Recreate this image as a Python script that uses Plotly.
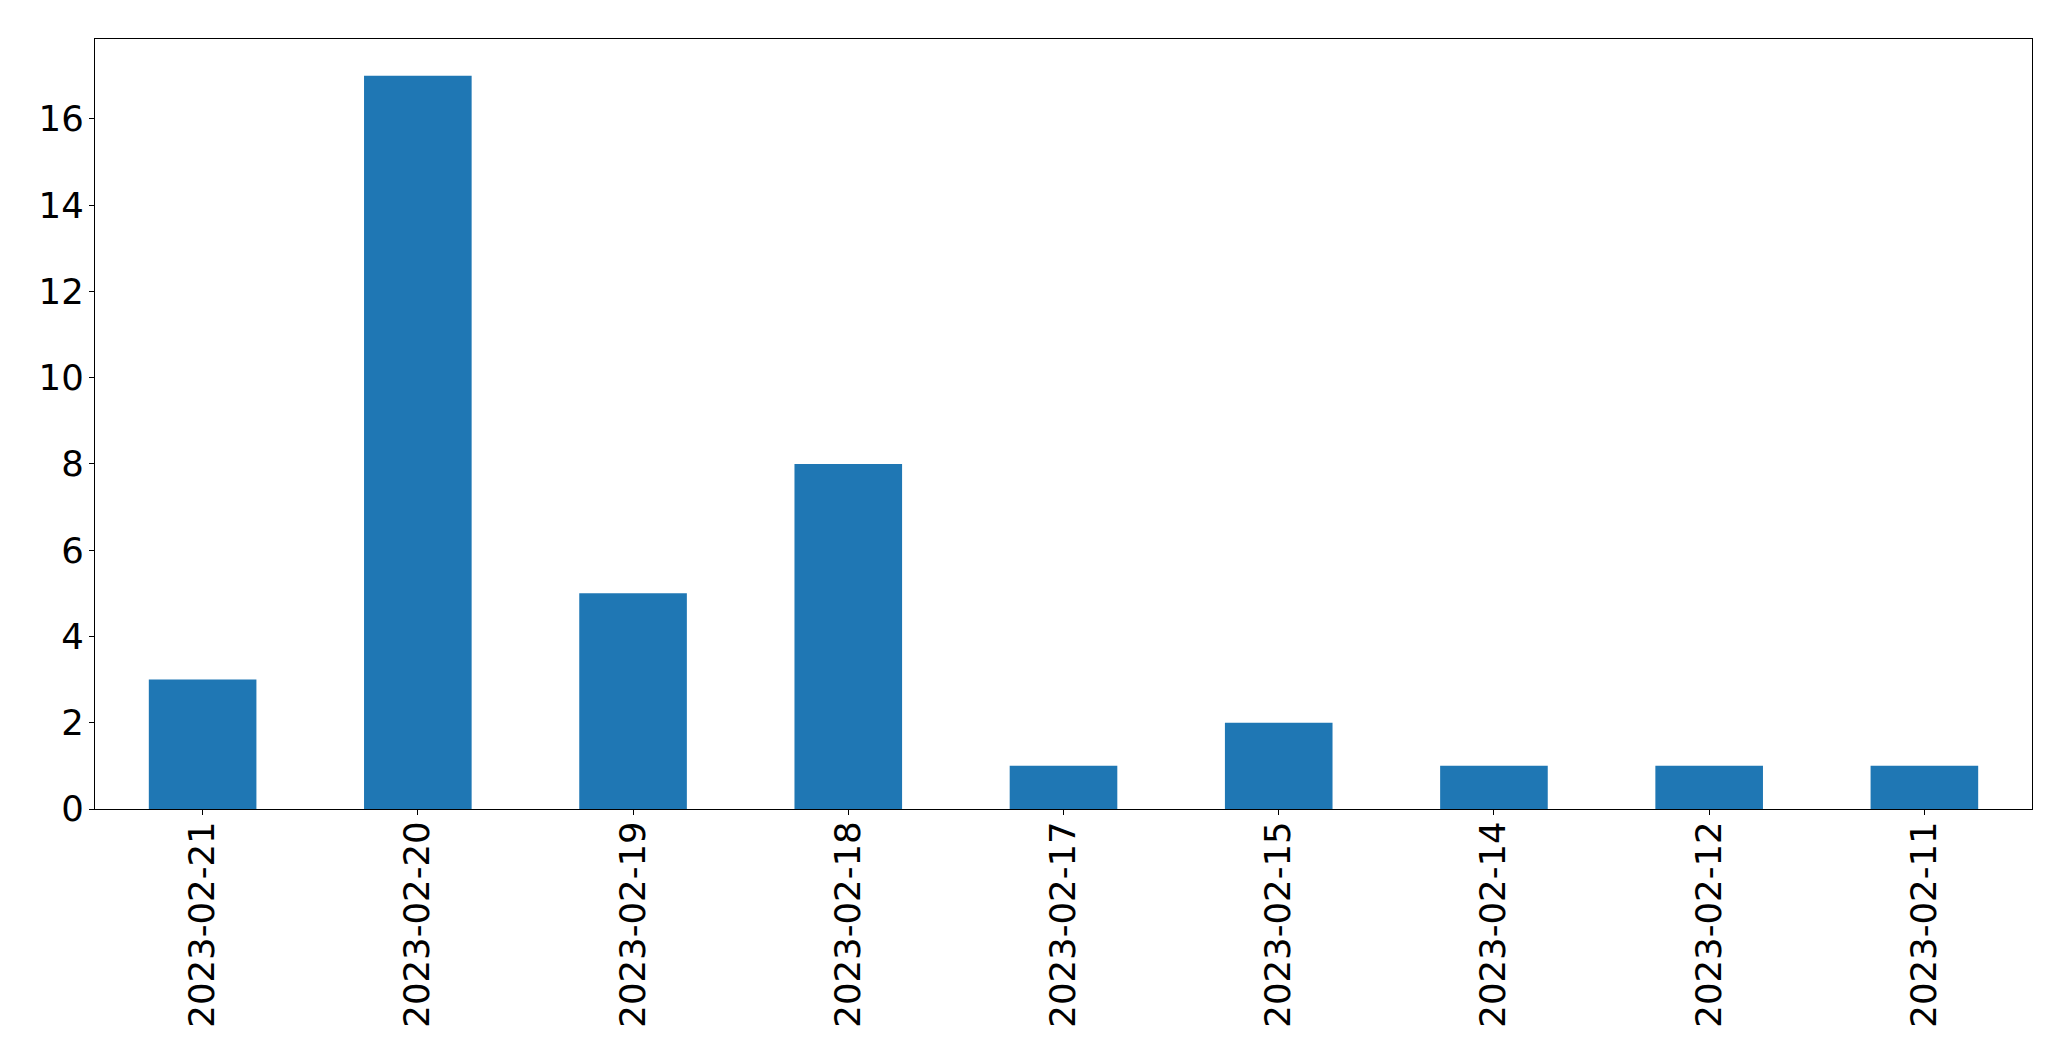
import plotly.graph_objects as go

dates = ["2023-02-21", "2023-02-20", "2023-02-19", "2023-02-18", "2023-02-17",
         "2023-02-15", "2023-02-14", "2023-02-12", "2023-02-11"]
counts = [3, 17, 5, 8, 1, 2, 1, 1, 1]

fig = go.Figure(go.Bar(x=dates, y=counts, width=0.5, marker_color="#1f77b4",
                       marker_line_width=0))

# page body has an 8px margin; compensate so the plot area lands at
# x 95..2032, y 39..809 in the window
fig.update_layout(
    width=2055, height=1045,
    margin=dict(l=87, r=31, t=31, b=244, pad=0),
    plot_bgcolor="white", paper_bgcolor="white",
    font=dict(family="DejaVu Sans", size=35.5, color="black"),
    showlegend=False,
)
fig.update_xaxes(type="category", range=[-0.5, 8.5], tickangle=-90,
                 showline=True, mirror=True, linecolor="black", linewidth=1.3,
                 ticks="outside", ticklen=5, tickwidth=1.3, tickcolor="black",
                 showgrid=False, zeroline=False, ticklabelstandoff=-8)
fig.update_yaxes(range=[0, 17.85], tickvals=[0, 2, 4, 6, 8, 10, 12, 14, 16],
                 showline=True, mirror=True, linecolor="black", linewidth=1.3,
                 ticks="outside", ticklen=5, tickwidth=1.3, tickcolor="black",
                 showgrid=False, zeroline=False, ticklabelstandoff=-2)

fig.write_html("out.html")
